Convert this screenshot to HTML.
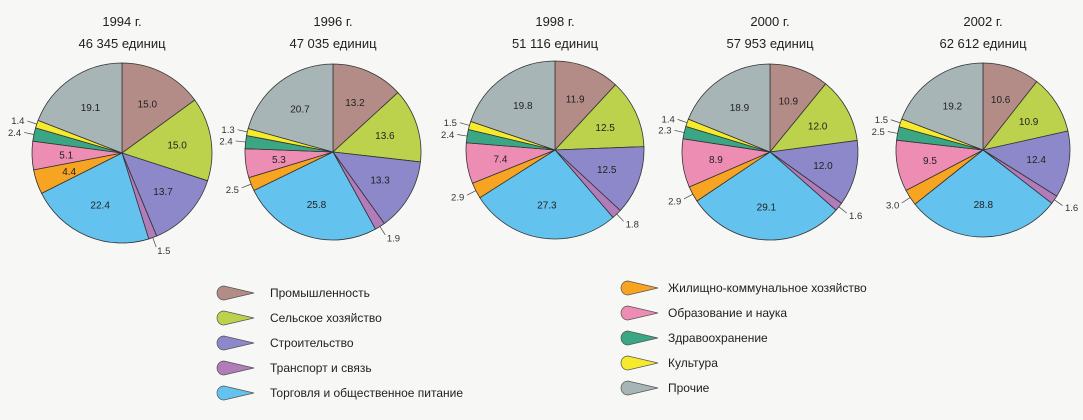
<!DOCTYPE html>
<html><head><meta charset="utf-8">
<style>
body{margin:0;background:#f7f7f5;}
svg{display:block;font-family:"Liberation Sans","DejaVu Sans",sans-serif;}
</style></head><body>
<svg id="c" width="1083" height="420" viewBox="0 0 1083 420"></svg>
<script>
const years=["1994 г.","1996 г.","1998 г.","2000 г.","2002 г."];
const totals=["46 345 единиц","47 035 единиц","51 116 единиц","57 953 единиц","62 612 единиц"];
const categories=["Промышленность","Сельское хозяйство","Строительство","Транспорт и связь","Торговля и общественное питание","Жилищно-коммунальное хозяйство","Образование и наука","Здравоохранение","Культура","Прочие"];
const v1994=[15.0,15.0,13.7,1.5,22.4,4.4,5.1,2.4,1.4,19.1];
const v1996=[13.2,13.6,13.3,1.9,25.8,2.5,5.3,2.4,1.3,20.7];
const v1998=[11.9,12.5,12.5,1.8,27.3,2.9,7.4,2.4,1.5,19.8];
const v2000=[10.9,12.0,12.0,1.6,29.1,2.9,8.9,2.3,1.4,18.9];
const v2002=[10.6,10.9,12.4,1.6,28.8,3.0,9.5,2.5,1.5,19.2];
const series=[v1994,v1996,v1998,v2000,v2002];
const colors=["#b38c88","#bcd24c","#8c88c9","#b07cba","#64c2ee","#f6a421","#ee8db4","#3ba683","#f6ea2e","#a8b5b6"];
const centers=[[122,153,90],[333,152,88],[555,150,89],[770,152,88],[983,150,87]];
const NS="http://www.w3.org/2000/svg";
const svg=document.getElementById('c');
function mk(t,a){const e=document.createElementNS(NS,t);for(const k in a)e.setAttribute(k,a[k]);svg.appendChild(e);return e;}
function pt(cx,cy,r,f){const a=f*2*Math.PI;return [cx+r*Math.sin(a),cy-r*Math.cos(a)];}
series.forEach((vals,pi)=>{
  const [cx,cy,r]=centers[pi];
  const t1=mk('text',{x:cx,y:26,'text-anchor':'middle','font-size':13,fill:'#222'});t1.textContent=years[pi];
  
  
  const t2=mk('text',{x:cx,y:48,'text-anchor':'middle','font-size':13,fill:'#222'});t2.textContent=totals[pi];
  
  
  const sum=vals.reduce((a,b)=>a+b,0);
  let acc=0;
  vals.forEach((v,i)=>{
    const f0=acc/sum,f1=(acc+v)/sum;acc+=v;
    const p0=pt(cx,cy,r,f0),p1=pt(cx,cy,r,f1);
    const large=(f1-f0)>0.5?1:0;
    const p=mk('path',{d:`M${cx},${cy}L${p0[0]},${p0[1]}A${r},${r} 0 ${large} 1 ${p1[0]},${p1[1]}Z`,fill:colors[i],stroke:'#333','stroke-width':0.8});
    
    
    const fm=(f0+f1)/2;
    const txt=v.toFixed(1);
    let lab;
    if(v>=4){
      const q=pt(cx,cy,r*0.62,fm);
      lab=mk('text',{x:q[0],y:q[1]+4,'text-anchor':'middle','font-size':10,fill:'#222'});
    }else{
      const a=pt(cx,cy,r,fm),b=pt(cx,cy,r+10,fm);
      mk('line',{x1:a[0],y1:a[1],x2:b[0],y2:b[1],stroke:'#444','stroke-width':0.7});
      const left=b[0]<cx;
      const q=pt(cx,cy,r+13,fm);
      lab=mk('text',{x:q[0],y:q[1]+4,'text-anchor':left?'end':'start','font-size':9.5,fill:'#333'});
    }
    lab.textContent=txt;
    
    
  });
});
categories.forEach((c,i)=>{
  const col=i<5?0:1,row=i%5;
  const x=col?622:218,y=(col?288:293)+row*25,tx=col?668:270;
  const g=mk('path',{d:`M${x+6},${y-7}L${x+36},${y}L${x+6},${y+7}A7,7 0 0 1 ${x+6},${y-7}Z`,fill:colors[i],stroke:'#555','stroke-width':0.7});
  
  
  const t=mk('text',{x:tx,y:y+4,'font-size':12,fill:'#222'});t.textContent=c;
  
  
});
</script>
</body></html>
